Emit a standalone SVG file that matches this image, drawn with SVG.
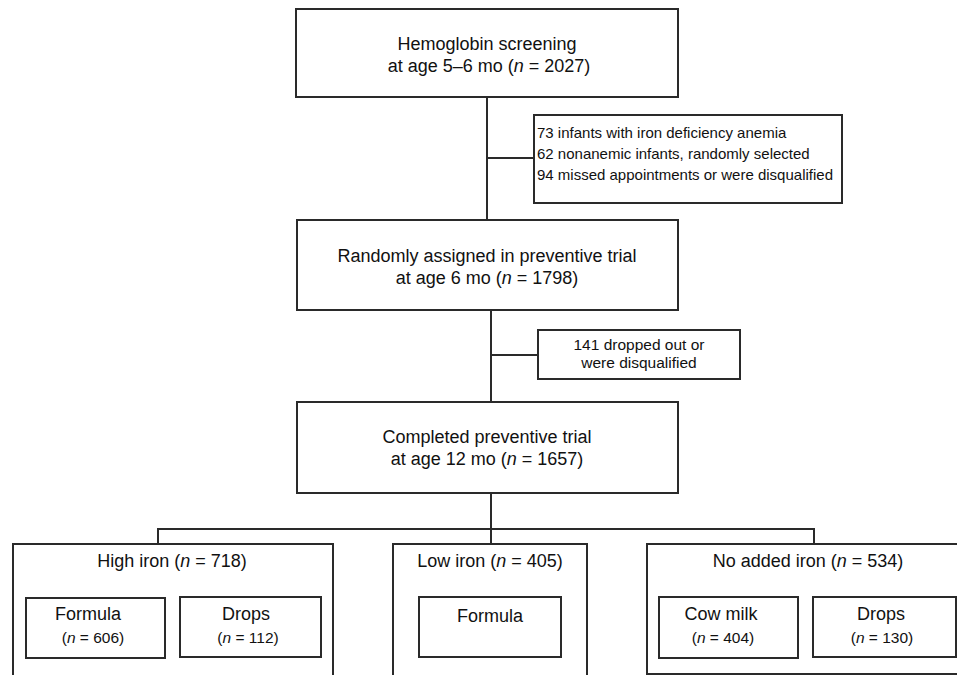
<svg xmlns="http://www.w3.org/2000/svg" width="957" height="675" viewBox="0 0 957 675">
<style>
rect{fill:none;stroke:#2a2a2a;stroke-width:2}
.c line,.c polyline{stroke:#2a2a2a;stroke-width:2;fill:none}
text{font-family:"Liberation Sans",Arial,sans-serif;fill:#111}
.m{font-size:18px;text-anchor:middle}
.s{font-size:15px}
.sm{font-size:15.5px;text-anchor:middle}
.n{font-size:15.5px;text-anchor:middle}
</style>
<rect x="0" y="0" width="957" height="675" style="fill:#fff;stroke:none"/>
<g class="c" id="connectors">
<line x1="487" y1="97" x2="487" y2="220"/>
<line x1="487" y1="158" x2="534" y2="158"/>
<line x1="491" y1="310" x2="491" y2="402"/>
<line x1="491" y1="355" x2="538" y2="355"/>
<line x1="491" y1="493" x2="491" y2="544"/>
<polyline points="158,544 158,529 814,529 814,544"/>
</g>
<g id="screening">
<rect x="296" y="9" width="382" height="88"/>
<text class="m" x="487" y="50">Hemoglobin screening</text>
<text class="m" x="489" y="72">at age 5–6 mo (<tspan font-style="italic">n</tspan> = 2027)</text>
</g>
<g id="excluded1">
<rect x="534" y="115" width="308" height="88"/>
<text class="s" x="537" y="138">73 infants with iron deficiency anemia</text>
<text class="s" x="537" y="159">62 nonanemic infants, randomly selected</text>
<text class="s" x="537" y="180">94 missed appointments or were disqualified</text>
</g>
<g id="randomized">
<rect x="297" y="220" width="381" height="90"/>
<text class="m" x="487" y="262">Randomly assigned in preventive trial</text>
<text class="m" x="487" y="284">at age 6 mo (<tspan font-style="italic">n</tspan> = 1798)</text>
</g>
<g id="dropped">
<rect x="538" y="330" width="202" height="49"/>
<text class="sm" x="639" y="350">141 dropped out or</text>
<text class="sm" x="639" y="368">were disqualified</text>
</g>
<g id="completed">
<rect x="297" y="402" width="381" height="91"/>
<text class="m" x="487" y="443">Completed preventive trial</text>
<text class="m" x="487" y="465">at age 12 mo (<tspan font-style="italic">n</tspan> = 1657)</text>
</g>
<g id="high-iron">
<rect x="13" y="544" width="320" height="132"/>
<text class="m" x="172" y="567">High iron (<tspan font-style="italic">n</tspan>  = 718)</text>
</g>
<g id="high-formula">
<rect x="26" y="598" width="139" height="60"/>
<text class="m" x="88" y="620">Formula</text>
<text class="n" x="93" y="643">(<tspan font-style="italic">n</tspan> = 606)</text>
</g>
<g id="high-drops">
<rect x="180" y="597" width="141" height="60"/>
<text class="m" x="246" y="620">Drops</text>
<text class="n" x="248" y="643">(<tspan font-style="italic">n</tspan> = 112)</text>
</g>
<g id="low-iron">
<rect x="393" y="544" width="194" height="132"/>
<text class="m" x="490" y="567">Low iron (<tspan font-style="italic">n</tspan> = 405)</text>
</g>
<g id="low-formula">
<rect x="419" y="597" width="142" height="60"/>
<text class="m" x="490" y="622">Formula</text>
</g>
<g id="no-iron">
<rect x="647" y="544" width="312" height="130"/>
<text class="m" x="808" y="567">No added iron (<tspan font-style="italic">n</tspan> = 534)</text>
</g>
<g id="cow-milk">
<rect x="659" y="597" width="139" height="61"/>
<text class="m" x="721" y="620">Cow milk</text>
<text class="n" x="723" y="643">(<tspan font-style="italic">n</tspan> = 404)</text>
</g>
<g id="no-drops">
<rect x="813" y="597" width="143" height="60"/>
<text class="m" x="881" y="620">Drops</text>
<text class="n" x="882" y="643">(<tspan font-style="italic">n</tspan> = 130)</text>
</g>
</svg>
